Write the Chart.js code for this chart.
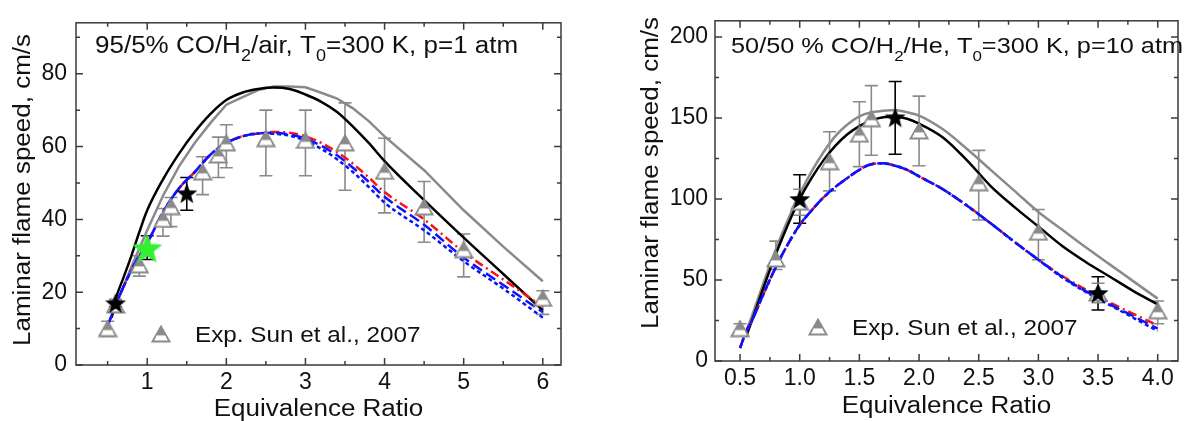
<!DOCTYPE html>
<html>
<head>
<meta charset="utf-8">
<script src="https://cdn.jsdelivr.net/npm/chart.js@4.4.1/dist/chart.umd.min.js"></script>
<style>
  html, body { margin: 0; padding: 0; background: #fff; }
  body { width: 1187px; height: 421px; position: relative; overflow: hidden; }
  canvas { position: absolute; top: 0; }
  #left { left: 0; }
  #right { left: 600px; }
</style>
</head>
<body>
<canvas id="left" width="590" height="421"></canvas>
<canvas id="right" width="587" height="421"></canvas>
<script>
(function () {
  'use strict';

  // --- Left panel: 95/5% CO/H2/air, T0=300 K, p=1 atm ---
  var L_GRID = [0.5, 0.55, 0.6, 0.7, 0.8, 0.9, 1.0, 1.2, 1.4, 1.6, 1.8, 2.0, 2.2, 2.4, 2.6, 2.8, 3.0, 3.2, 3.4, 3.6, 3.8, 4.0, 4.5, 5.0, 5.5, 6.0];
  var L_BLACK = [null, 13, 18, 24, 30, 36.5, 42.5, 51, 58, 64, 69, 72.8, 74.8, 75.8, 76.2, 75.8, 74.3, 72.3, 69.5, 65.5, 61, 56, 45.3, 35, 25, 15];
  var L_GRAY = [null, 13, 16, 21.5, 27, 32, 37, 46.5, 54.5, 61, 66.5, 71.5, 73.5, 75.5, 76.5, 76.5, 76.3, 74.8, 73.2, 70.5, 67, 62.8, 53.5, 42.5, 32.5, 23];
  var L_RED = [11, 13.5, 16.5, 21.5, 26, 30, 33.5, 42, 48.5, 53, 57.8, 61, 62.8, 63.6, 64, 63.8, 62.8, 61, 58.5, 55.3, 51.5, 47.5, 40, 31, 23.5, 16];
  var L_BLUE_DASH = [11, 13.5, 16.5, 21.5, 26, 30, 33.5, 42, 48.5, 53, 57.8, 61, 62.8, 63.6, 63.8, 63.3, 62.2, 60.2, 57.6, 54.2, 50.3, 46.2, 38.5, 29.5, 22, 14.5];
  var L_BLUE_DOT = [11, 13.5, 16.5, 21.5, 26, 30, 33.5, 42, 48.5, 53, 57.8, 61, 62.8, 63.6, 63.5, 63, 61.6, 59.4, 56.5, 53, 48.9, 44.6, 37, 28.5, 21, 13];

  var L_EXP_PHI = [0.5, 0.6, 0.9, 1.2, 1.3, 1.7, 1.9, 2.0, 2.5, 3.0, 3.5, 4.0, 4.5, 5.0, 6.0];
  var L_EXP = [10, 16.5, 27.5, 40, 43.5, 53, 57.7, 61, 62.2, 61.7, 61, 53.2, 43.4, 31.7, 18.3];
  var L_EXP_LO = [8, 15, 24.4, 35.4, 38, 46.8, 51.5, 54.2, 52, 52, 48, 41.8, 33.7, 24.2, 13.9];
  var L_EXP_HI = [12, 18, 30, 43, 46, 57.2, 62.6, 66, 70, 70, 72, 62.3, 50.4, 36, 20.4];

  var L_STAR_PHI = [0.6, 1.5];
  var L_STAR = [17, 47.2];
  var L_STAR_LO = [16, 42.5];
  var L_STAR_HI = [18, 51.5];

  var L_GREEN_PHI = [1.0];
  var L_GREEN = [32];
  var L_GREEN_LO = [29];
  var L_GREEN_HI = [35.5];

  var L_XTICKS = [1, 2, 3, 4, 5, 6];
  var L_XMINOR = [0.5, 1.5, 2.5, 3.5, 4.5, 5.5];
  var L_YTICKS = [0, 20, 40, 60, 80];
  var L_YMINOR = [10, 30, 50, 70, 90];

  // --- Right panel: 50/50 % CO/H2/He, T0=300 K, p=10 atm ---
  var R_GRID = [0.5, 0.55, 0.6, 0.7, 0.8, 0.9, 1.0, 1.1, 1.2, 1.3, 1.4, 1.5, 1.6, 1.7, 1.8, 1.9, 2.0, 2.2, 2.4, 2.6, 2.8, 3.0, 3.2, 3.4, 3.6, 3.8, 4.0];
  var R_BLACK = [null, 15, 25, 46, 66, 84, 100, 113, 124, 133, 140, 145, 148.5, 150.5, 150.8, 149.5, 146.5, 138, 124, 108, 95, 83, 71, 61, 52, 43, 35];
  var R_GRAY = [null, 18, 28, 49, 69, 87, 103, 117, 129, 139, 146, 151, 153.5, 154.5, 155, 153.5, 151.5, 143, 131, 118, 105, 92, 81, 70, 59.5, 49, 38.5];
  var R_RED = [8, 18, 25, 42, 58, 72, 84, 93, 101, 107.5, 113, 118, 121.5, 122, 120.5, 118, 114, 106, 96, 85, 73.5, 62.5, 52.5, 44, 36, 29, 22];
  var R_BLUE_DASH = [8, 18, 25, 42, 58, 72, 84, 93, 101, 107.5, 113, 118, 121.5, 122, 120.5, 118, 114, 106, 96, 85, 73.5, 62.5, 52, 43, 35, 27.5, 20];
  var R_BLUE_DOT = [8, 18, 25, 42, 58, 72, 84, 93, 101, 107.5, 113, 118, 121.5, 122, 120.5, 118, 114, 106, 96, 85, 73.5, 62.5, 51.5, 42.5, 34.5, 26.5, 18.5];

  var R_EXP_PHI = [0.5, 0.8, 1.0, 1.25, 1.5, 1.6, 2.0, 2.5, 3.0, 3.5, 4.0];
  var R_EXP = [20, 63, 98, 123, 140, 149.5, 142, 110, 79.5, 42, 31];
  var R_EXP_LO = [17, 56.5, 90, 105, 120, 127, 120.5, 87, 62.5, 36, 23];
  var R_EXP_HI = [23, 74, 106, 141.5, 160, 170, 163.5, 130, 93.5, 48, 37];

  var R_STAR_PHI = [1.0, 1.8, 3.5];
  var R_STAR = [100, 150.5, 42];
  var R_STAR_LO = [85, 127.6, 31.5];
  var R_STAR_HI = [115, 172.5, 52];

  var R_XTICKS = [0.5, 1.0, 1.5, 2.0, 2.5, 3.0, 3.5, 4.0];
  var R_XMINOR = [0.75, 1.25, 1.75, 2.25, 2.75, 3.25, 3.75];
  var R_YTICKS = [0, 50, 100, 150, 200];
  var R_YMINOR = [25, 75, 125, 175];

  var FONT = "'Liberation Sans', Arial, sans-serif";
  var TEXT = '#111';
  var GRAY = '#8a8a8a';
  var STRETCH = 1.13;

  // --- Marker images ---
  function halfTriangle() {
    var c = document.createElement('canvas');
    c.width = 20; c.height = 18;
    var g = c.getContext('2d');
    function tri() {
      g.beginPath();
      g.moveTo(10, 1.5); g.lineTo(18.5, 16.5); g.lineTo(1.5, 16.5); g.closePath();
    }
    tri();
    g.fillStyle = '#fff'; g.fill();
    g.lineWidth = 1.8; g.strokeStyle = GRAY; g.stroke();
    g.save();
    g.beginPath(); g.rect(0, 0, 20, 10.5); g.clip();
    tri();
    g.fillStyle = GRAY; g.fill();
    g.restore();
    g.beginPath(); g.moveTo(5, 11.5); g.lineTo(15, 11.5);
    g.strokeStyle = '#fff'; g.lineWidth = 1.4; g.stroke();
    return c;
  }

  function star(rOut, rIn, color) {
    var s = Math.ceil(rOut * 2 + 2);
    var c = document.createElement('canvas');
    c.width = s; c.height = s;
    var g = c.getContext('2d');
    g.beginPath();
    for (var i = 0; i < 10; i++) {
      var r = i % 2 === 0 ? rOut : rIn;
      var ang = -Math.PI / 2 + i * Math.PI / 5;
      var px = s / 2 + r * Math.cos(ang), py = s / 2 + 1 + r * Math.sin(ang);
      if (i === 0) g.moveTo(px, py); else g.lineTo(px, py);
    }
    g.closePath();
    g.fillStyle = color; g.fill();
    return c;
  }

  var TRI = halfTriangle();
  var BLACK_STAR = star(11, 4.6, '#000');
  var GREEN_STAR = star(16, 6.8, '#33f033');

  function pts(xs, ys) {
    return xs.map(function (x, i) { return { x: x, y: ys[i] }; });
  }

  function lineSet(xs, ys, color, dash, smooth) {
    return {
      data: pts(xs, ys), borderColor: color, borderWidth: 2.5, borderDash: dash || [],
      pointRadius: 0, fill: false, spanGaps: false,
      cubicInterpolationMode: smooth ? 'monotone' : 'default', tension: 0
    };
  }

  function markerSet(xs, ys, lo, hi, img, errColor) {
    return {
      data: pts(xs, ys), showLine: false, pointStyle: img, pointRadius: 8,
      errLo: lo, errHi: hi, errColor: errColor
    };
  }

  // --- Drawing helpers ---
  function stretchedText(ctx, text, x, y, size) {
    ctx.font = size + 'px ' + FONT;
    ctx.save();
    ctx.translate(x, y);
    ctx.scale(STRETCH, 1);
    ctx.fillText(text, 0, 0);
    ctx.restore();
    return ctx.measureText(text).width * STRETCH;
  }

  function richText(ctx, parts, x, y, size) {
    ctx.textAlign = 'left';
    ctx.textBaseline = 'alphabetic';
    for (var i = 0; i < parts.length; i++) {
      var p = parts[i];
      if (p.sub) x += stretchedText(ctx, p.t, x, y + 8, Math.round(size * 0.68));
      else x += stretchedText(ctx, p.t, x, y, size);
    }
  }

  var decorPlugin = {
    id: 'decor',
    beforeDatasetsDraw: function (chart) {
      var ctx = chart.ctx, xs = chart.scales.x, ys = chart.scales.y;
      ctx.save();
      chart.data.datasets.forEach(function (ds) {
        if (!ds.errLo) return;
        ctx.strokeStyle = ds.errColor;
        ctx.lineWidth = 1.6;
        ds.data.forEach(function (p, i) {
          var x = xs.getPixelForValue(p.x);
          var y1 = ys.getPixelForValue(ds.errLo[i]);
          var y2 = ys.getPixelForValue(ds.errHi[i]);
          ctx.beginPath();
          ctx.moveTo(x, y1); ctx.lineTo(x, y2);
          ctx.moveTo(x - 6.5, y1); ctx.lineTo(x + 6.5, y1);
          ctx.moveTo(x - 6.5, y2); ctx.lineTo(x + 6.5, y2);
          ctx.stroke();
        });
      });
      ctx.restore();
    },
    afterDraw: function (chart) {
      var o = chart.options.plugins.decor;
      var ctx = chart.ctx, a = chart.chartArea, xs = chart.scales.x, ys = chart.scales.y;
      ctx.save();
      // frame and inward ticks on all four sides
      ctx.strokeStyle = '#3a3a3a';
      ctx.lineWidth = 1.5;
      ctx.strokeRect(a.left, a.top, a.right - a.left, a.bottom - a.top);
      ctx.beginPath();
      function xt(v, len) {
        var p = xs.getPixelForValue(v);
        ctx.moveTo(p, a.bottom); ctx.lineTo(p, a.bottom - len);
        ctx.moveTo(p, a.top); ctx.lineTo(p, a.top + len);
      }
      function yt(v, len) {
        var p = ys.getPixelForValue(v);
        ctx.moveTo(a.left, p); ctx.lineTo(a.left + len, p);
        ctx.moveTo(a.right, p); ctx.lineTo(a.right - len, p);
      }
      o.xMajor.forEach(function (v) { xt(v, 7); });
      o.xMinor.forEach(function (v) { xt(v, 4); });
      o.yMajor.forEach(function (v) { yt(v, 7); });
      o.yMinor.forEach(function (v) { yt(v, 4); });
      ctx.stroke();

      ctx.fillStyle = TEXT;
      // annotation
      richText(ctx, o.note, o.noteX, o.noteY, o.noteSize);
      // legend entry
      ctx.drawImage(TRI, o.legX - TRI.width / 2, o.legY - TRI.height / 2);
      ctx.textAlign = 'left';
      ctx.textBaseline = 'alphabetic';
      stretchedText(ctx, 'Exp. Sun et al., 2007', o.legX + 34, o.legY + 8, 21.5);
      // axis titles
      ctx.textAlign = 'center';
      ctx.textBaseline = 'alphabetic';
      stretchedText(ctx, 'Equivalence Ratio', (a.left + a.right) / 2, o.xTitleY, 23);
      ctx.save();
      ctx.translate(o.yTitleX, o.yTitleY);
      ctx.rotate(-Math.PI / 2);
      ctx.textBaseline = 'middle';
      stretchedText(ctx, 'Laminar flame speed, cm/s', 0, 0, 23);
      ctx.restore();
      ctx.restore();
    }
  };

  function makeChart(id, c) {
    return new Chart(document.getElementById(id), {
      type: 'line',
      data: { datasets: c.datasets },
      plugins: [decorPlugin],
      options: {
        responsive: false,
        animation: false,
        events: [],
        layout: { padding: { top: 15, right: c.padRight, left: 0, bottom: 0 } },
        plugins: {
          legend: { display: false },
          tooltip: { enabled: false },
          decor: c.decor
        },
        scales: {
          x: {
            type: 'linear', min: c.xMin, max: c.xMax,
            grid: { display: false, drawTicks: false }, border: { display: false },
            afterBuildTicks: function (s) { s.ticks = c.xTicks.map(function (v) { return { value: v }; }); },
            afterFit: function (s) { s.height = c.xHeight; },
            ticks: {
              autoSkip: false, maxRotation: 0, padding: c.xPad, color: TEXT,
              font: { family: FONT, size: 23 },
              callback: c.xFmt
            }
          },
          y: {
            type: 'linear', min: 0, max: c.yMax,
            grid: { display: false, drawTicks: false }, border: { display: false },
            afterBuildTicks: function (s) { s.ticks = c.yTicks.map(function (v) { return { value: v }; }); },
            afterFit: function (s) { s.width = c.yWidth; },
            ticks: {
              padding: c.yPad, color: TEXT,
              font: { family: FONT, size: 23 },
              callback: function (v) { return String(v); }
            }
          }
        }
      }
    });
  }

  makeChart('left', {
    xMin: 0.1, xMax: 6.23, yMax: 94, padRight: 29, xHeight: 56, yWidth: 76, yPad: 9, xPad: 4,
    xTicks: L_XTICKS, yTicks: L_YTICKS,
    xFmt: function (v) { return String(v); },
    datasets: [
      markerSet(L_GREEN_PHI, L_GREEN, L_GREEN_LO, L_GREEN_HI, GREEN_STAR, '#000'),
      markerSet(L_STAR_PHI, L_STAR, L_STAR_LO, L_STAR_HI, BLACK_STAR, '#000'),
      markerSet(L_EXP_PHI, L_EXP, L_EXP_LO, L_EXP_HI, TRI, GRAY),
      lineSet(L_GRID, L_BLUE_DASH, '#0a14ff', [11, 5], true),
      lineSet(L_GRID, L_BLUE_DOT, '#0a14ff', [4, 3], true),
      lineSet(L_GRID, L_RED, '#ff1010', [9, 4, 2, 4], true),
      lineSet(L_GRID, L_BLACK, '#000', [], true),
      lineSet(L_GRID, L_GRAY, GRAY, [], false)
    ],
    decor: {
      xMajor: L_XTICKS, xMinor: L_XMINOR, yMajor: L_YTICKS, yMinor: L_YMINOR,
      note: [{ t: '95/5% CO/H' }, { t: '2', sub: true }, { t: '/air, T' }, { t: '0', sub: true }, { t: '=300 K, p=1 atm' }],
      noteX: 95, noteY: 53, noteSize: 23,
      legX: 161, legY: 334,
      xTitleY: 416, yTitleX: 24, yTitleY: 190
    }
  });

  makeChart('right', {
    xMin: 0.29, xMax: 4.17, yMax: 210, padRight: 1, xHeight: 60, yWidth: 115, yPad: 7, xPad: 4,
    xTicks: R_XTICKS, yTicks: R_YTICKS,
    xFmt: function (v) { return v.toFixed(1); },
    datasets: [
      markerSet(R_STAR_PHI, R_STAR, R_STAR_LO, R_STAR_HI, BLACK_STAR, '#000'),
      markerSet(R_EXP_PHI, R_EXP, R_EXP_LO, R_EXP_HI, TRI, GRAY),
      lineSet(R_GRID, R_BLUE_DASH, '#0a14ff', [11, 5], true),
      lineSet(R_GRID, R_BLUE_DOT, '#0a14ff', [4, 3], true),
      lineSet(R_GRID, R_RED, '#ff1010', [9, 4, 2, 4], true),
      lineSet(R_GRID, R_BLACK, '#000', [], true),
      lineSet(R_GRID, R_GRAY, GRAY, [], true)
    ],
    decor: {
      xMajor: R_XTICKS, xMinor: R_XMINOR, yMajor: R_YTICKS, yMinor: R_YMINOR,
      note: [{ t: '50/50 % CO/H' }, { t: '2', sub: true }, { t: '/He, T' }, { t: '0', sub: true }, { t: '=300 K, p=10 atm' }],
      noteX: 131, noteY: 53, noteSize: 22.4,
      legX: 218, legY: 327,
      xTitleY: 413, yTitleX: 52, yTitleY: 173
    }
  });
})();
</script>
</body>
</html>
